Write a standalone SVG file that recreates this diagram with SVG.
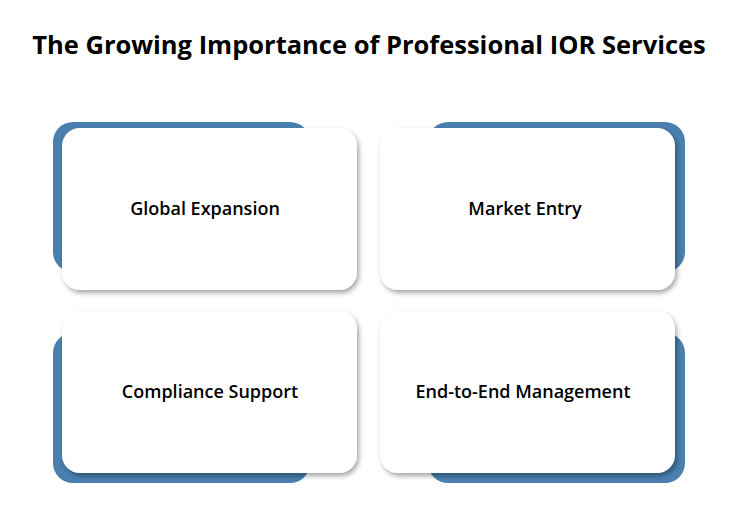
<svg xmlns="http://www.w3.org/2000/svg" width="754" height="515" viewBox="0 0 754 515">
<defs>
<filter id="sh" x="-10%" y="-10%" width="125%" height="130%"><feDropShadow dx="2" dy="3" stdDeviation="2.5" flood-color="#000" flood-opacity="0.35"/></filter>
</defs>
<style>
.b{fill:#4a7fb0}
.c{fill:#fff;filter:url(#sh)}
.t{font-family:"Open Sans","DejaVu Sans",sans-serif;font-size:18px;font-weight:600;fill:#000;text-anchor:middle}
</style>
<rect width="754" height="515" fill="#fff"/>
<text x="369" y="54" style="font-family:'Open Sans','DejaVu Sans',sans-serif;font-size:25.5px;font-weight:bold;text-anchor:middle">The Growing Importance of Professional IOR Services</text>
<g id="n1"><rect class="b" x="53" y="122" width="257" height="150" rx="20"/><rect class="c" x="62" y="128" width="295" height="162" rx="18"/><text class="t" x="205" y="215">Global Expansion</text></g>
<g id="n2"><rect class="b" x="428" y="122" width="257" height="150" rx="20"/><rect class="c" x="380" y="128" width="295" height="162" rx="18"/><text class="t" x="525" y="215">Market Entry</text></g>
<g id="n3"><rect class="b" x="53" y="333" width="257" height="150" rx="20"/><rect class="c" x="62" y="311" width="295" height="162" rx="18"/><text class="t" x="210" y="398">Compliance Support</text></g>
<g id="n4"><rect class="b" x="428" y="333" width="257" height="150" rx="20"/><rect class="c" x="380" y="311" width="295" height="162" rx="18"/><text class="t" x="523" y="398">End-to-End Management</text></g>
<g id="connectors"/>
</svg>
